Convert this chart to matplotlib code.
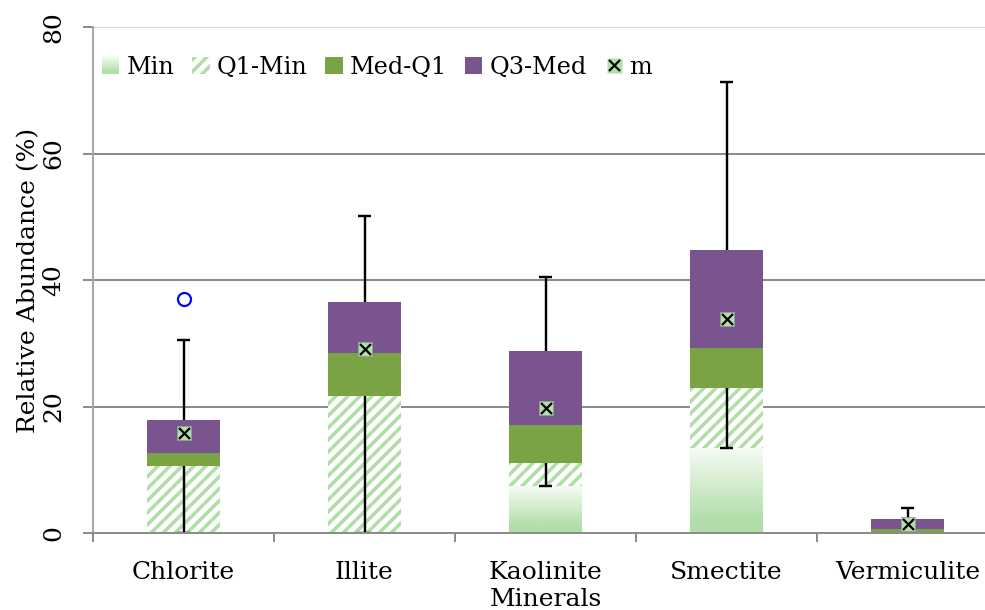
import numpy as np
import matplotlib
matplotlib.use("Agg")
import matplotlib.pyplot as plt
from matplotlib.patches import Patch, Rectangle
from matplotlib.lines import Line2D
from matplotlib.legend_handler import HandlerBase
from matplotlib.colors import to_rgb

# ---------------- data ----------------
categories = ["Chlorite", "Illite", "Kaolinite", "Smectite", "Vermiculite"]
mins = [0.0, 0.0, 7.4, 13.5, 0.0]
q1s = [10.6, 21.7, 11.1, 23.0, 0.1]
meds = [12.6, 28.4, 17.1, 29.2, 0.6]
q3s = [17.9, 36.5, 28.8, 44.7, 2.2]
maxs = [30.5, 50.1, 40.4, 71.3, 3.9]
means = [15.8, 29.1, 19.8, 33.9, 1.4]
outlier_cats = ["Chlorite"]
outlier_vals = [37.0]
yticks = [0, 20, 40, 60, 80]

# ---------------- style ----------------
LIGHT = "#B2DEAA"
GREEN = "#7AA444"
PURPLE = "#7A548F"
GRID = "#8C8C8C"
FS = 25
LFS = 24

plt.rcParams["font.family"] = ["DejaVu Serif", "Liberation Serif"]
plt.rcParams["hatch.linewidth"] = 3.6

DPI = 72
fig = plt.figure(figsize=(985 / DPI, 610 / DPI), dpi=DPI)
ax = fig.add_axes([93 / 985, (610 - 533) / 610, 905 / 985, 506 / 610])

x = np.arange(len(categories))
w = 0.40
lc = np.array(to_rgb(LIGHT))


def grad_color(t):
    # t=0 bottom, t=1 top
    s = np.clip((t - 0.15) / 0.85, 0, 1) * 0.88
    return tuple(lc * (1 - s) + np.ones(3) * s)


# gradient "Min" segments
ngrad = 64
grad_img = np.array([[grad_color(t)] for t in np.linspace(1, 0, ngrad)])
for xi, mn in zip(x, mins):
    if mn > 0:
        ax.imshow(grad_img, extent=[xi - w / 2, xi + w / 2, 0, mn],
                  aspect="auto", interpolation="bilinear", zorder=1.2)

q1_min = [a - b for a, b in zip(q1s, mins)]
med_q1 = [a - b for a, b in zip(meds, q1s)]
q3_med = [a - b for a, b in zip(q3s, meds)]

ax.bar(x, q1_min, w, bottom=mins, facecolor="white", edgecolor=LIGHT,
       hatch="//", linewidth=0, zorder=1.2)
# lower whiskers (visible through hatched segment)
for xi, mn, q in zip(x, mins, q1s):
    ax.plot([xi, xi], [mn, q], color="black", lw=2.4, zorder=1.5,
            solid_capstyle="butt")
    ax.plot([xi - 0.034, xi + 0.034], [mn, mn], color="black", lw=2.4,
            zorder=1.5, solid_capstyle="butt")
ax.bar(x, med_q1, w, bottom=q1s, color=GREEN, linewidth=0, zorder=1.6)
ax.bar(x, q3_med, w, bottom=meds, color=PURPLE, linewidth=0, zorder=1.6)
# upper whiskers
for xi, q, mx in zip(x, q3s, maxs):
    ax.plot([xi, xi], [q, mx], color="black", lw=2.4, zorder=1.5,
            solid_capstyle="butt")
    ax.plot([xi - 0.034, xi + 0.034], [mx, mx], color="black", lw=2.4,
            zorder=1.5, solid_capstyle="butt")

# means
ax.plot(x, means, ls="none", marker="s", ms=14, mfc=LIGHT, mec="#9a9a9a",
        mew=0.8, zorder=3)
ax.plot(x, means, ls="none", marker="x", ms=11, mec="black", mew=2.2, zorder=3.1)

# outliers
ox = [categories.index(c) for c in outlier_cats]
ax.plot(ox, outlier_vals, ls="none", marker="o", ms=13, mfc="none",
        mec="#0000FF", mew=2.2, zorder=3)

# ---------------- axes ----------------
ax.set_xlim(-0.5, len(categories) - 0.5)
ax.set_ylim(0, 80)
ax.set_yticks(yticks)
ax.set_yticklabels([str(v) for v in yticks])
for v in yticks[1:]:
    ax.axhline(v, color=GRID if v < 80 else "#C8C8C8",
               lw=2 if v < 80 else 1.5, zorder=0.5)

ax.set_xticks(x)
ax.set_xticklabels(categories)
ax.set_xticks(np.arange(len(categories) + 1) - 0.5, minor=True)
ax.tick_params(axis="x", which="major", length=0, pad=28, labelsize=FS)
ax.tick_params(axis="x", which="minor", length=9, width=2, color=GRID,
               direction="out")
ax.tick_params(axis="y", which="major", length=10, width=2, color=GRID,
               labelsize=FS, labelrotation=90, pad=18)
for lab in ax.get_yticklabels():
    lab.set_va("center")

for s in ["top", "right"]:
    ax.spines[s].set_visible(False)
ax.spines["left"].set_color("#A6A6A6")
ax.spines["left"].set_linewidth(2)
ax.spines["bottom"].set_color(GRID)
ax.spines["bottom"].set_linewidth(2)

ax.set_ylabel("Relative Abundance (%)", fontsize=FS)
ax.yaxis.set_label_coords(-53 / 905, 0.5)
ax.set_xlabel("Minerals", fontsize=FS)
ax.xaxis.set_label_coords(0.5, -(588 - 533) / 506)


# ---------------- legend ----------------
class GradProxy:
    pass


class GradHandler(HandlerBase):
    def create_artists(self, legend, orig_handle, xdescent, ydescent,
                       width, height, fontsize, trans):
        arts = []
        n = 12
        for i in range(n):
            t = (i + 0.5) / n
            r = Rectangle((-xdescent, -ydescent + i * height / n), width,
                          height / n * 1.05, facecolor=grad_color(t),
                          edgecolor="none", transform=trans)
            arts.append(r)
        return arts


h_min = GradProxy()
h_q1 = Patch(facecolor="white", edgecolor=LIGHT, hatch="//", linewidth=0)
h_med = Patch(facecolor=GREEN, linewidth=0)
h_q3 = Patch(facecolor=PURPLE, linewidth=0)
h_m = (Line2D([], [], ls="none", marker="s", ms=15, mfc=LIGHT, mec="none"),
       Line2D([], [], ls="none", marker="x", ms=11, mec="black", mew=2.2))

leg = ax.legend([h_min, h_q1, h_med, h_q3, h_m],
                ["Min", "Q1-Min", "Med-Q1", "Q3-Med", "m"],
                handler_map={GradProxy: GradHandler()},
                loc="center left", bbox_to_anchor=(9 / 905, (533 - 67) / 506),
                ncol=5, frameon=False, fontsize=LFS, borderpad=0,
                borderaxespad=0, handlelength=0.72, handleheight=0.72,
                handletextpad=0.3, columnspacing=0.75)

fig.savefig("out.png", dpi=DPI)
